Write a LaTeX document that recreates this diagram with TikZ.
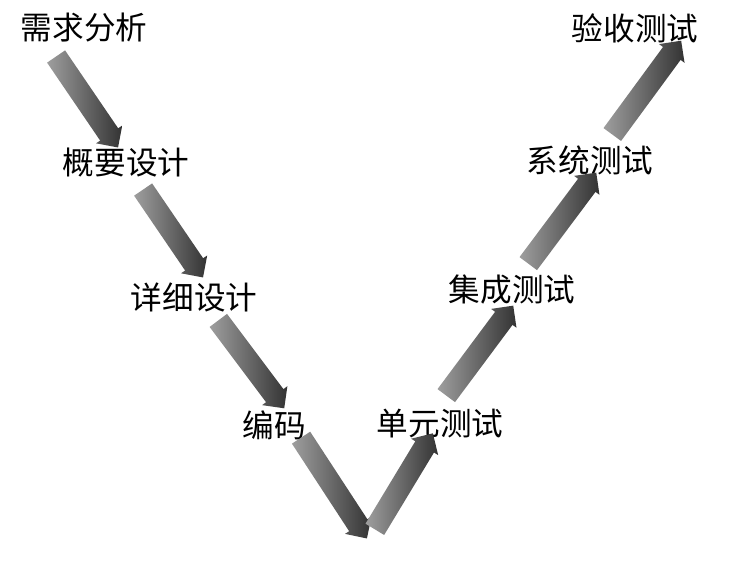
\documentclass[tikz,border=0pt]{standalone}
\usepackage{fontspec}
\newfontfamily\cjk{Noto Sans CJK SC}
\usetikzlibrary{shapes.arrows,calc}

\begin{document}
\begin{tikzpicture}[x=0.2cm,y=0.2cm]
\tikzstyle{every node}+=[inner sep=0pt, font=\cjk\fontsize{18}{18}\selectfont]
\tikzstyle{varrow}=[single arrow, inner xsep=0pt, inner ysep=6pt, single arrow head extend=2.8pt, left color=black!38, right color=black!80, draw=none]
\useasboundingbox (0,0) rectangle (74.4,-56.2);
\node (XQFX) at (8.4,-2.8) {需求分析};
\node (GYSJ) at (12.6,-16.3) {概要设计};
\node (XXSJ) at (19.4,-29.7) {详细设计};
\node (BM) at (27.4,-42.5) {编码};
\node (DYCS) at (44,-42.4) {单元测试};
\node (JCCS) at (51.2,-29) {集成测试};
\node (XTCS) at (59,-16) {系统测试};
\node (YSCS) at (63.5,-2.8) {验收测试};
\coordinate (t1) at (5.3,-5.2);
\coordinate (h1) at (11.5,-14.3);
\coordinate (t2) at (14,-18.5);
\coordinate (h2) at (20,-27.3);
\coordinate (t3) at (21.5,-31.6);
\coordinate (h3) at (28.1,-40.4);
\coordinate (t4) at (29.8,-43.3);
\coordinate (h4) at (36.4,-53.4);
\coordinate (t5) at (37.2,-53.4);
\coordinate (h5) at (43,-43.8);
\coordinate (t6) at (44.3,-40);
\coordinate (h6) at (51,-31);
\coordinate (t7) at (52.5,-26.8);
\coordinate (h7) at (59.3,-17.7);
\coordinate (t8) at (60.9,-13.9);
\coordinate (h8) at (67.8,-4.5);
\foreach \t/\h in {t1/h1,t2/h2,t3/h3,t4/h4,t5/h5,t6/h6,t7/h7,t8/h8}
\path let \p1=($(\h)-(\t)$), \n1={veclen(\x1,\y1)} in (\t) -- (\h) node[midway, sloped, varrow, minimum height=\n1] {};
\end{tikzpicture}
\end{document}
